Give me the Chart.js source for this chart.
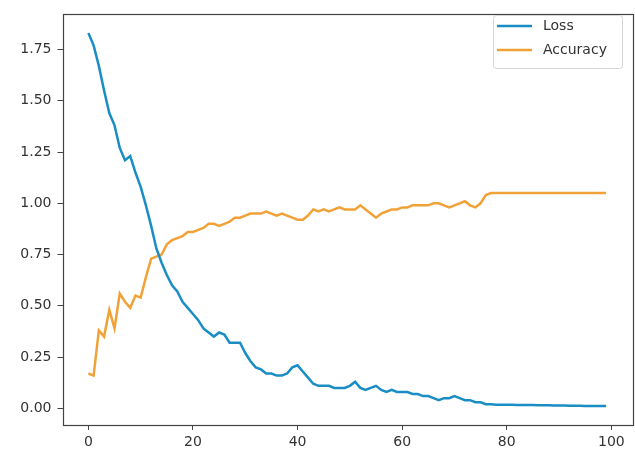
<!DOCTYPE html>
<html>
<head>
<meta charset="utf-8">
<script src="https://cdn.jsdelivr.net/npm/chart.js@4.4.1/dist/chart.umd.min.js"></script>
<style>
  html, body { margin: 0; padding: 0; background: #fff; }
  #wrap { width: 635px; height: 455px; }
</style>
</head>
<body>
<div id="wrap"><canvas id="myChart" width="635" height="455"></canvas></div>
<script>
const seriesNames = ['Loss', 'Accuracy'];
const seriesColors = ['#1a8dc4', '#f0a238'];

// loss per epoch (0..99)
const loss = [
  1.83, 1.77, 1.67, 1.55, 1.44, 1.38, 1.27, 1.21, 1.23, 1.15,
  1.08, 0.99, 0.89, 0.78, 0.71, 0.65, 0.60, 0.57, 0.52, 0.49,
  0.46, 0.43, 0.39, 0.37, 0.35, 0.37, 0.36, 0.32, 0.32, 0.32,
  0.27, 0.23, 0.20, 0.19, 0.17, 0.17, 0.16, 0.16, 0.17, 0.20,
  0.21, 0.18, 0.15, 0.12, 0.11, 0.11, 0.11, 0.10, 0.10, 0.10,
  0.11, 0.13, 0.10, 0.09, 0.10, 0.11, 0.09, 0.08, 0.09, 0.08,
  0.08, 0.08, 0.07, 0.07, 0.06, 0.06, 0.05, 0.04, 0.05, 0.05,
  0.06, 0.05, 0.04, 0.04, 0.03, 0.03, 0.02, 0.02, 0.018, 0.018,
  0.018, 0.018, 0.017, 0.017, 0.016, 0.016, 0.015, 0.015, 0.015, 0.014,
  0.014, 0.014, 0.013, 0.013, 0.013, 0.012, 0.012, 0.012, 0.012, 0.012
];

// accuracy per epoch (0..99)
const accuracy = [
  0.17, 0.16, 0.38, 0.35, 0.48, 0.39, 0.56, 0.52, 0.49, 0.55,
  0.54, 0.64, 0.73, 0.74, 0.75, 0.80, 0.82, 0.83, 0.84, 0.86,
  0.86, 0.87, 0.88, 0.90, 0.90, 0.89, 0.90, 0.91, 0.93, 0.93,
  0.94, 0.95, 0.95, 0.95, 0.96, 0.95, 0.94, 0.95, 0.94, 0.93,
  0.92, 0.92, 0.94, 0.97, 0.96, 0.97, 0.96, 0.97, 0.98, 0.97,
  0.97, 0.97, 0.99, 0.97, 0.95, 0.93, 0.95, 0.96, 0.97, 0.97,
  0.98, 0.98, 0.99, 0.99, 0.99, 0.99, 1.00, 1.00, 0.99, 0.98,
  0.99, 1.00, 1.01, 0.99, 0.98, 1.00, 1.04, 1.05, 1.05, 1.05,
  1.05, 1.05, 1.05, 1.05, 1.05, 1.05, 1.05, 1.05, 1.05, 1.05,
  1.05, 1.05, 1.05, 1.05, 1.05, 1.05, 1.05, 1.05, 1.05, 1.05
];

const xTicks = [0, 20, 40, 60, 80, 100];
const yTicks = [0, 0.25, 0.5, 0.75, 1.0, 1.25, 1.5, 1.75];

const FONT = "'DejaVu Sans', sans-serif";

// frame round the plot area (matplotlib spines)
const framePlugin = {
  id: 'frame',
  afterDraw(chart) {
    const a = chart.chartArea, c = chart.ctx;
    c.save();
    c.strokeStyle = '#444';
    c.lineWidth = 1.2;
    c.strokeRect(Math.round(a.left) + 0.5, Math.round(a.top) + 0.5,
                 Math.round(a.right - a.left), Math.round(a.bottom - a.top));
    c.restore();
  }
};

// legend box in upper right, like matplotlib
const legendPlugin = {
  id: 'mplLegend',
  afterDraw(chart) {
    const c = chart.ctx;
    const x = 493, y = 15, w = 129, h = 53;
    c.save();
    c.fillStyle = 'rgba(255,255,255,0.8)';
    c.strokeStyle = '#d6d6d6';
    c.lineWidth = 1;
    c.beginPath();
    c.roundRect(x + 0.5, y + 0.5, w, h, 3);
    c.fill();
    c.stroke();
    c.font = '14px ' + FONT;
    c.textBaseline = 'middle';
    chart.data.datasets.forEach((ds, i) => {
      const ly = y + 11 + i * 24;
      c.strokeStyle = ds.borderColor;
      c.lineWidth = 2.5;
      c.beginPath();
      c.moveTo(x + 4, ly);
      c.lineTo(x + 39, ly);
      c.stroke();
      c.fillStyle = '#333';
      c.fillText(ds.label, x + 50, ly);
    });
    c.restore();
  }
};

const ctx = document.getElementById('myChart').getContext('2d');
const chart = new Chart(ctx, {
  type: 'line',
  data: {
    datasets: [
      {
        label: seriesNames[0],
        data: loss.map((v, i) => ({ x: i, y: v })),
        borderColor: seriesColors[0],
        borderWidth: 2.5,
        pointRadius: 0,
        tension: 0,
        fill: false
      },
      {
        label: seriesNames[1],
        data: accuracy.map((v, i) => ({ x: i, y: v })),
        borderColor: seriesColors[1],
        borderWidth: 2.5,
        pointRadius: 0,
        tension: 0,
        fill: false
      }
    ]
  },
  options: {
    responsive: false,
    animation: false,
    layout: { padding: { left: 0, right: 3, top: 6, bottom: 0 } },
    plugins: {
      legend: { display: false },
      tooltip: { enabled: false }
    },
    scales: {
      x: {
        type: 'linear',
        min: -4.95,
        max: 103.95,
        afterBuildTicks: (s) => { s.ticks = xTicks.map(v => ({ value: v })); },
        afterFit: (s) => { s.height = 30; },
        grid: { drawOnChartArea: false, tickLength: 5, tickColor: '#444', tickWidth: 1 },
        border: { display: false },
        ticks: {
          color: '#333',
          font: { family: FONT, size: 14 },
          padding: 4,
          maxRotation: 0,
          autoSkip: false
        }
      },
      y: {
        min: -0.081,
        max: 1.921,
        afterBuildTicks: (s) => { s.ticks = yTicks.map(v => ({ value: v })); },
        afterFit: (s) => { s.width = 62.5; },
        grid: { drawOnChartArea: false, tickLength: 5, tickColor: '#444', tickWidth: 1 },
        border: { display: false },
        ticks: {
          color: '#333',
          font: { family: FONT, size: 14 },
          padding: 6,
          autoSkip: false,
          callback: (v) => Number(v).toFixed(2)
        }
      }
    }
  },
  plugins: [framePlugin, legendPlugin]
});
</script>
</body>
</html>
